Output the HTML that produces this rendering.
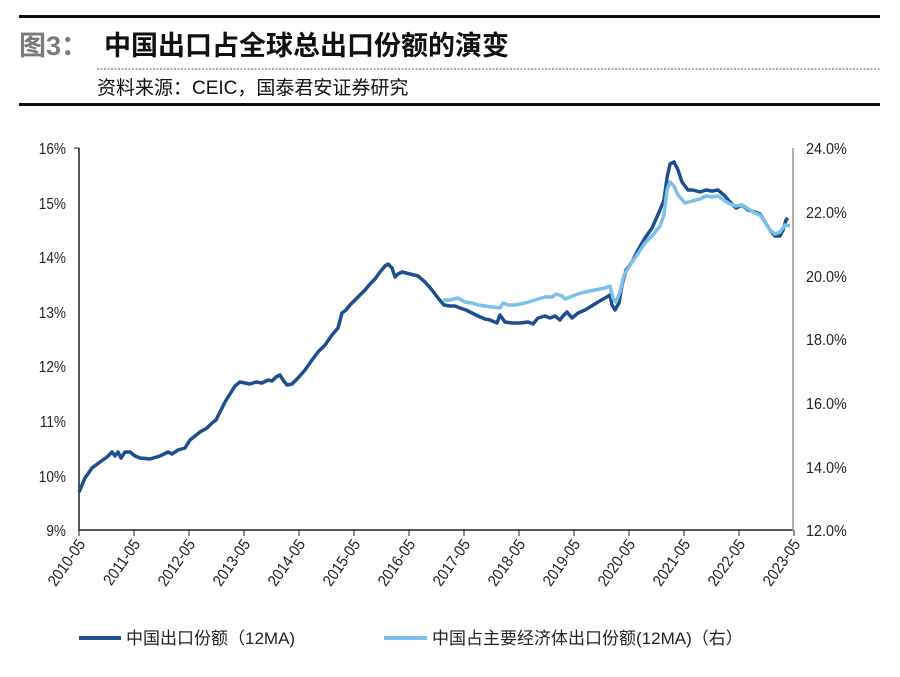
<!DOCTYPE html>
<html><head><meta charset="utf-8"><style>
body{margin:0;background:#fff;width:900px;height:677px;overflow:hidden;font-family:"Liberation Sans","Noto Sans CJK SC",sans-serif}
</style></head><body>
<svg width="900" height="677" xmlns="http://www.w3.org/2000/svg" style="position:absolute;left:0;top:0">
<rect x="19" y="15" width="861" height="3" fill="#111"/>
<text x="19" y="55" font-size="27" font-weight="bold" fill="#7a7a7a" font-family="Liberation Sans,Noto Sans CJK SC,sans-serif">图3：</text>
<text x="104" y="55" font-size="27" font-weight="bold" fill="#111" font-family="Liberation Sans,Noto Sans CJK SC,sans-serif">中国出口占全球总出口份额的演变</text>
<line x1="97" y1="69" x2="880" y2="69" stroke="#555" stroke-width="1" stroke-dasharray="2,1.5"/>
<text x="97" y="94" font-size="19" fill="#111" font-family="Liberation Sans,Noto Sans CJK SC,sans-serif">资料来源：CEIC，国泰君安证券研究</text>
<rect x="19" y="103" width="861" height="3" fill="#111"/>
<g font-family="Liberation Sans,sans-serif" font-size="16" fill="#222">
<g transform="translate(66,0) scale(0.85,1)" text-anchor="end">
<text x="0" y="154">16%</text>
<text x="0" y="209">15%</text>
<text x="0" y="263">14%</text>
<text x="0" y="318">13%</text>
<text x="0" y="372">12%</text>
<text x="0" y="427">11%</text>
<text x="0" y="482">10%</text>
<text x="0" y="536">9%</text>
</g>
<g transform="translate(806,0) scale(0.9,1)">
<text x="0" y="154">24.0%</text>
<text x="0" y="218">22.0%</text>
<text x="0" y="282">20.0%</text>
<text x="0" y="345">18.0%</text>
<text x="0" y="409">16.0%</text>
<text x="0" y="473">14.0%</text>
<text x="0" y="536">12.0%</text>
</g>
</g>
<line x1="79" y1="148" x2="79" y2="531" stroke="#222" stroke-width="1.5"/>
<line x1="74" y1="148" x2="79" y2="148" stroke="#222"/>
<line x1="79" y1="530" x2="793" y2="530" stroke="#222" stroke-width="1.5"/>
<line x1="793" y1="148" x2="793" y2="531" stroke="#999" stroke-width="1.5"/>
<g stroke="#222">
<line x1="79" y1="530" x2="79" y2="536"/><line x1="134" y1="530" x2="134" y2="536"/><line x1="189" y1="530" x2="189" y2="536"/><line x1="244" y1="530" x2="244" y2="536"/><line x1="299" y1="530" x2="299" y2="536"/><line x1="354" y1="530" x2="354" y2="536"/><line x1="409" y1="530" x2="409" y2="536"/><line x1="464" y1="530" x2="464" y2="536"/><line x1="519" y1="530" x2="519" y2="536"/><line x1="574" y1="530" x2="574" y2="536"/><line x1="629" y1="530" x2="629" y2="536"/><line x1="684" y1="530" x2="684" y2="536"/><line x1="739" y1="530" x2="739" y2="536"/><line x1="794" y1="530" x2="794" y2="536"/>
</g>
<g font-family="Liberation Sans,sans-serif" font-size="16" fill="#222" text-anchor="end">
<text transform="translate(86,544) rotate(-55) scale(0.9,1)">2010-05</text>
<text transform="translate(141,544) rotate(-55) scale(0.9,1)">2011-05</text>
<text transform="translate(196,544) rotate(-55) scale(0.9,1)">2012-05</text>
<text transform="translate(251,544) rotate(-55) scale(0.9,1)">2013-05</text>
<text transform="translate(306,544) rotate(-55) scale(0.9,1)">2014-05</text>
<text transform="translate(361,544) rotate(-55) scale(0.9,1)">2015-05</text>
<text transform="translate(416,544) rotate(-55) scale(0.9,1)">2016-05</text>
<text transform="translate(471,544) rotate(-55) scale(0.9,1)">2017-05</text>
<text transform="translate(526,544) rotate(-55) scale(0.9,1)">2018-05</text>
<text transform="translate(581,544) rotate(-55) scale(0.9,1)">2019-05</text>
<text transform="translate(636,544) rotate(-55) scale(0.9,1)">2020-05</text>
<text transform="translate(691,544) rotate(-55) scale(0.9,1)">2021-05</text>
<text transform="translate(746,544) rotate(-55) scale(0.9,1)">2022-05</text>
<text transform="translate(801,544) rotate(-55) scale(0.9,1)">2023-05</text>
</g>
<polyline fill="none" stroke="#1f4e8c" stroke-width="3.5" stroke-linejoin="round" points="79,492 85,478 92,468 100,462 107,457 112,452 115,456 118,452 121,458 125,452 130,452 135,456 140,458 150,459 160,456 168,452 172,454 178,450 185,448 190,440 195,436 200,432 207,428 212,423 216,420 220,412 225,402 230,394 235,386 240,382 245,383 250,384 256,382 262,383 268,380 272,381 276,377 280,375 283,380 287,385 292,384 298,378 305,370 312,360 318,352 325,345 332,335 338,328 342,313 346,310 350,305 355,300 360,295 365,290 370,284 375,279 380,272 385,266 388,264 392,268 395,277 398,274 402,272 410,274 418,276 425,282 432,290 438,298 444,305 450,306 455,306 460,308 466,310 472,313 478,316 485,319 490,320 497,323 500,315 505,322 512,323 520,323 528,322 533,324 538,318 545,316 550,318 555,316 560,320 563,316 567,312 572,318 578,313 585,310 590,307 598,302 605,298 610,295 612,305 615,310 619,303 622,285 626,270 632,262 638,250 645,238 652,228 660,210 664,200 667,178 670,164 674,162 678,170 682,182 688,190 693,190 700,192 706,190 712,191 718,190 725,196 730,202 736,208 742,205 748,210 755,212 760,214 765,222 770,230 775,236 780,236 783,230 786,220 788,218"/>
<polyline fill="none" stroke="#7ac0e8" stroke-width="3.5" stroke-linejoin="round" points="443,300 450,300 458,298 465,302 472,303 478,305 485,306 492,307 500,308 503,303 508,305 515,305 525,303 535,300 545,297 552,297 556,294 562,296 565,299 570,297 578,294 585,292 595,290 605,288 610,286 613,298 616,302 620,292 624,275 630,265 637,255 645,243 652,236 660,226 664,215 667,190 670,182 674,186 678,195 685,203 692,201 700,199 706,196 712,197 718,196 725,201 730,204 736,206 742,205 750,210 755,213 760,215 765,222 770,230 775,234 780,232 785,225 790,226"/>
<line x1="79" y1="638" x2="121" y2="638" stroke="#1f4e8c" stroke-width="4"/>
<text x="126" y="644" font-size="17" fill="#222" font-family="Liberation Sans,Noto Sans CJK SC,sans-serif">中国出口份额（12MA)</text>
<line x1="384" y1="638" x2="427" y2="638" stroke="#7ac0e8" stroke-width="4"/>
<text x="432" y="644" font-size="17" fill="#222" font-family="Liberation Sans,Noto Sans CJK SC,sans-serif">中国占主要经济体出口份额(12MA)（右）</text>
</svg>
</body></html>
